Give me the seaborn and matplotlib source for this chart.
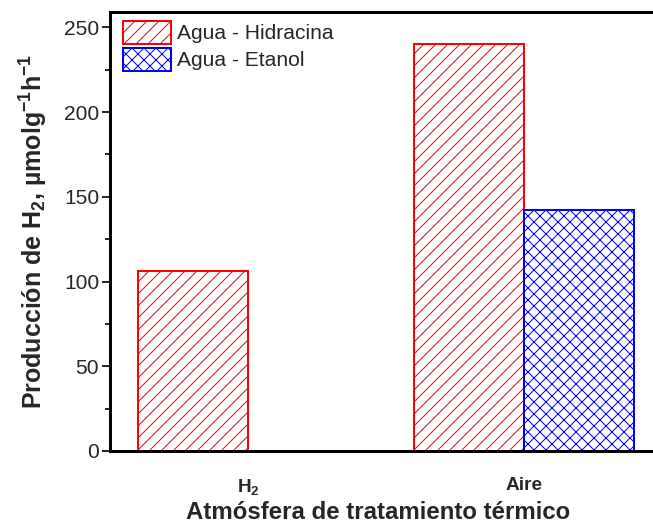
import numpy as np
import pandas as pd
import seaborn as sns
import matplotlib.pyplot as plt
from matplotlib.ticker import MultipleLocator

# Values (umol g-1 h-1)
atmospheres = ["H$_2$", "Aire"]
series = ["Agua - Hidracina", "Agua - Etanol"]
hidracina = [106, 240]
etanol = [np.nan, 142]  # no ethanol run under H2

colors = ["#ff0000", "#0000ff"]
hatches = ["//", "xx"]

df = pd.DataFrame({
    "atm": atmospheres * 2,
    "serie": [series[0]] * 2 + [series[1]] * 2,
    "prod": hidracina + etanol,
})

sns.set_style("ticks")
plt.rcParams["font.family"] = ["Liberation Sans", "DejaVu Sans"]
plt.rcParams["mathtext.fontset"] = "custom"
plt.rcParams["mathtext.bf"] = "Liberation Sans:bold"
plt.rcParams["mathtext.default"] = "bf"
plt.rcParams["hatch.linewidth"] = 1.0

# dpi 72 -> 1 pt == 1 px
fig = plt.figure(figsize=(653 / 72, 525 / 72), dpi=72)
ax = fig.add_axes([110 / 653, 74 / 525, 552 / 653, 439 / 525])

sns.barplot(data=df, x="atm", y="prod", hue="serie", order=atmospheres,
            hue_order=series, palette=colors, errorbar=None, width=0.8,
            legend=False, ax=ax)

# white bars with coloured hatch and edges
for cont, col, h in zip(ax.containers, colors, hatches):
    for bar in cont:
        bar.set_facecolor("white")
        bar.set_edgecolor(col)
        bar.set_hatch(h)
        bar.set_linewidth(2)

handles = [c.patches[0] for c in ax.containers]
ax.legend(handles, series, loc="upper left",
          bbox_to_anchor=(123 / 653, 1 - 21 / 525), bbox_transform=fig.transFigure,
          frameon=False, fontsize=21, handlelength=48 / 21, handleheight=27 / 21,
          handletextpad=0.3, labelspacing=0.2, borderpad=0, borderaxespad=0)

ax.set_xlim(-0.5, 1.5)
ax.set_ylim(0, 259)
ax.yaxis.set_major_locator(MultipleLocator(50))
ax.yaxis.set_minor_locator(MultipleLocator(25))
ax.tick_params(axis="y", which="major", direction="out", length=8, width=2,
               labelsize=21, pad=3)
ax.tick_params(axis="y", which="minor", direction="out", length=5, width=2)
ax.tick_params(axis="x", length=0, labelsize=19, pad=26)
for lab in ax.get_xticklabels():
    lab.set_fontweight("bold")
for s in ax.spines.values():
    s.set_linewidth(3)
    s.set_color("black")

ax.set_xlabel("Atmósfera de tratamiento térmico", fontsize=24,
              fontweight="bold")
ax.xaxis.set_label_coords(0.485, -0.115)
ax.set_ylabel("Producción de H$_2$, µmolg$^{-1}$h$^{-1}$", fontsize=25,
              fontweight="bold", labelpad=14)

fig.savefig("out.png", dpi=72)
